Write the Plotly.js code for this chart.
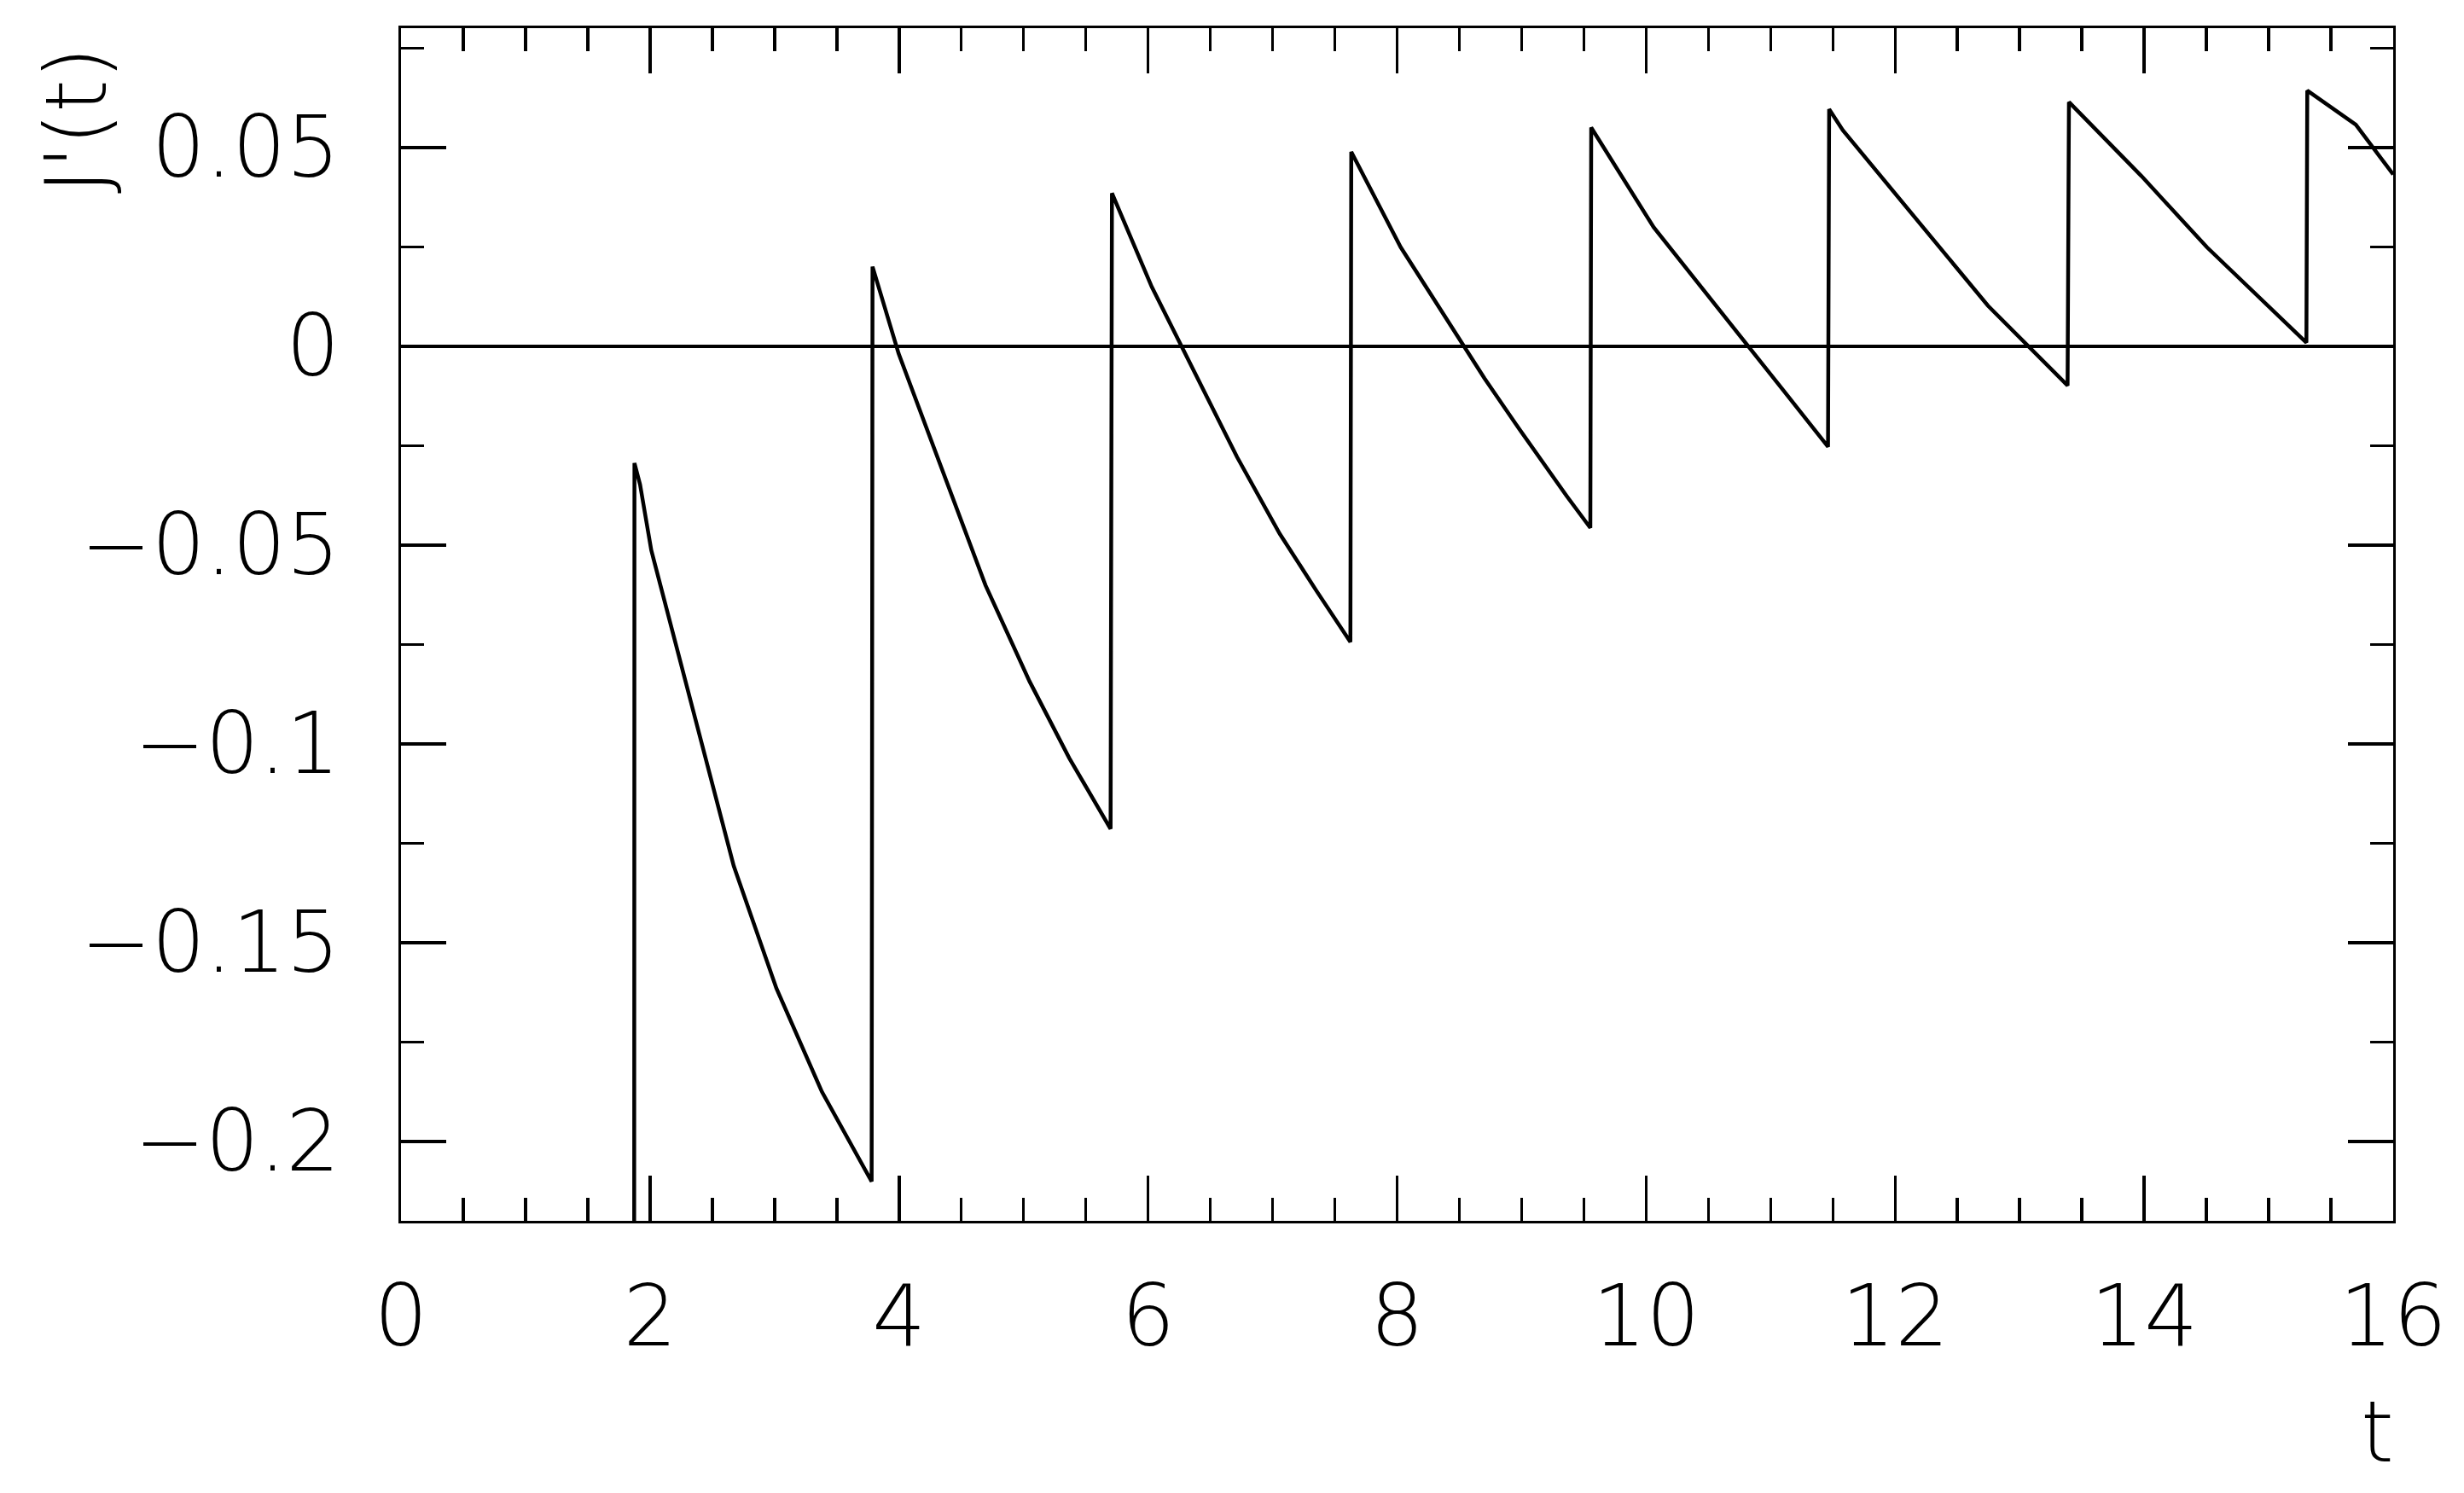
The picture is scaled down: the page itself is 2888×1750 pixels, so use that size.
<!DOCTYPE html>
<html>
<head>
<meta charset="utf-8">
<script src="https://cdn.plot.ly/plotly-3.0.1.min.js"></script>
<style>html,body{margin:0;padding:0;background:#fff;}</style>
</head>
<body>
<div id="chart" style="width:2888px;height:1750px;"></div>
<script>
// t values
const tValues = [1.872, 1.875, 1.92, 2.01, 2.672, 3.015, 3.38, 3.78,
  3.787, 3.997, 4.694, 5.048, 5.367, 5.527, 5.699,
  5.710, 6.030, 6.715, 7.058, 7.354, 7.625,
  7.632, 8.029, 8.702, 8.976, 9.365, 9.552,
  9.559, 10.061, 11.10, 11.461,
  11.47, 11.58, 12.745, 13.385,
  13.396, 13.978, 14.504, 15.303,
  15.31, 15.70, 16.0];
// J'(t) values
const jPrime = [-0.3, -0.0294, -0.0348, -0.0513, -0.1307, -0.1615, -0.1875, -0.2101,
  0.0200, -0.0019, -0.0601, -0.0843, -0.1036, -0.1120, -0.1214,
  0.0385, 0.0149, -0.0279, -0.0472, -0.0616, -0.0744,
  0.0489, 0.0249, -0.0081, -0.0206, -0.0378, -0.0457,
  0.0550, 0.0299, -0.0110, -0.0253,
  0.0596, 0.0543, 0.0102, -0.0099,
  0.0614, 0.0428, 0.0249, 0.0009,
  0.0643, 0.0557, 0.0432];

const xTickVals = [0, 2, 4, 6, 8, 10, 12, 14, 16];
const xTickText = ["0", "2", "4", "6", "8", "10", "12", "14", "16"];
const yTickVals = [-0.2, -0.15, -0.1, -0.05, 0, 0.05];
const yTickText = ["\u22120.2", "\u22120.15", "\u22120.1", "\u22120.05", "0", "0.05"];

const FONT = "DejaVu Sans, Liberation Sans, sans-serif";
const tickFont = {family: FONT, size: 99, color: "#000", weight: 200};

const trace = {
  x: tValues, y: jPrime, type: "scatter", mode: "lines",
  line: {color: "#000", width: 4.5}, hoverinfo: "skip"
};

const axisCommon = {
  showline: true, linecolor: "#000", linewidth: 3, mirror: "ticks",
  ticks: "inside", ticklen: 53, tickwidth: 3.5, tickcolor: "#000",
  showgrid: false, tickfont: tickFont, tickmode: "array"
};

const layout = {
  width: 2888, height: 1750,
  margin: {l: 470, r: 83, t: 33, b: 319},
  paper_bgcolor: "#fff", plot_bgcolor: "#fff",
  showlegend: false,
  xaxis: Object.assign({}, axisCommon, {
    range: [0, 16], tickvals: xTickVals, ticktext: xTickText,
    zeroline: false, ticklabelstandoff: 24,
    minor: {dtick: 0.5, ticks: "inside", ticklen: 27, tickwidth: 3.5, tickcolor: "#000", showgrid: false}
  }),
  yaxis: Object.assign({}, axisCommon, {
    range: [-0.22, 0.08], tickvals: yTickVals, ticktext: yTickText,
    zeroline: true, zerolinecolor: "#000", zerolinewidth: 4,
    ticklabelstandoff: 49,
    minor: {dtick: 0.025, ticks: "inside", ticklen: 27, tickwidth: 3.5, tickcolor: "#000", showgrid: false}
  }),
  annotations: [
    {text: "J'(t)", xref: "paper", yref: "paper", x: -0.1632, y: 0.9227,
     xanchor: "center", yanchor: "middle", textangle: -90, showarrow: false,
     font: {family: FONT, size: 99, color: "#000", weight: 200}},
    {text: "t", xref: "paper", yref: "paper", x: 0.9919, y: -0.1767,
     xanchor: "center", yanchor: "middle", showarrow: false,
     font: {family: FONT, size: 99, color: "#000", weight: 200}}
  ]
};

Plotly.newPlot("chart", [trace], layout, {staticPlot: true, displayModeBar: false});
</script>
</body>
</html>
